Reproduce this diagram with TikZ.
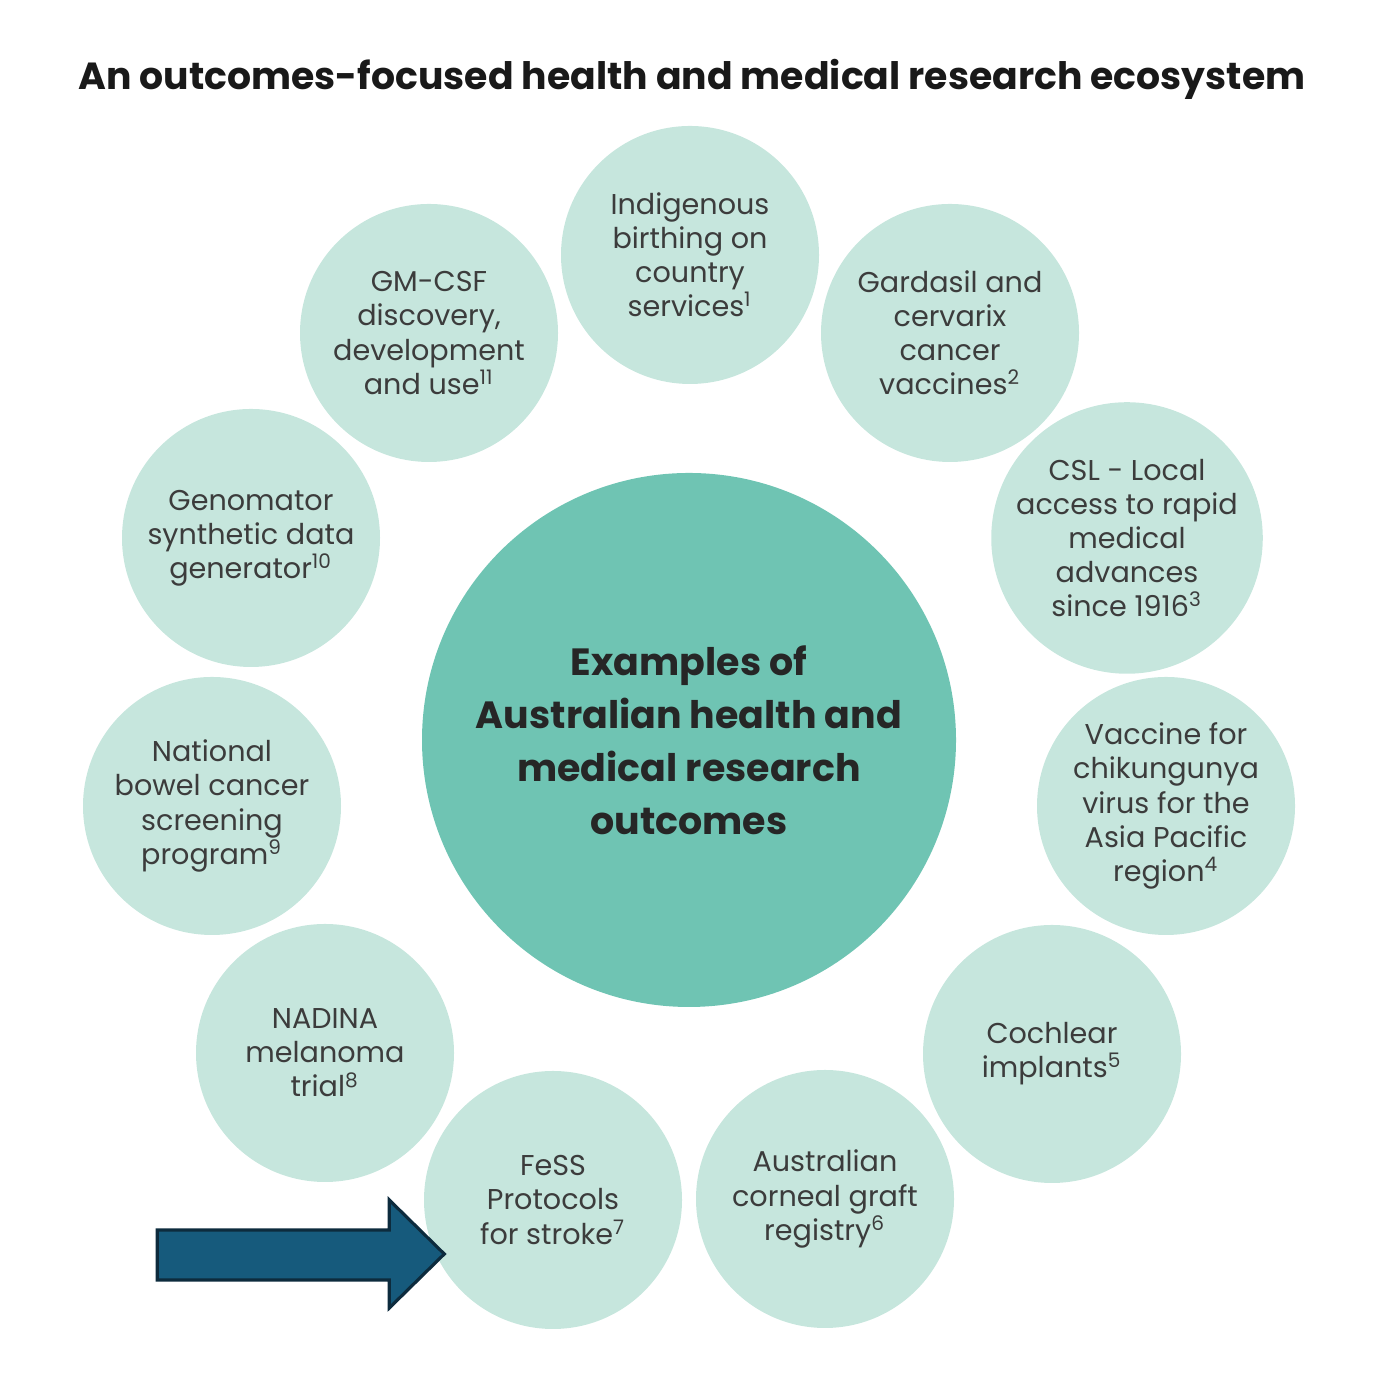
\documentclass[tikz,border=0pt]{standalone}
\usepackage{fontspec}
\setmainfont{Poppins}
\definecolor{mint}{HTML}{C6E6DD}
\definecolor{hubgreen}{HTML}{6FC4B3}
\definecolor{inktext}{HTML}{3C3C3C}
\definecolor{arrowblue}{HTML}{165A7C}
\definecolor{arrowedge}{HTML}{0D2B3D}
\tikzset{
  outcome/.style={circle, fill=mint, minimum size=2.58cm, inner sep=0pt,
    text=inktext, align=center, font=\fontsize{8.15}{9.7}\selectfont},
  hubnode/.style={circle, fill=hubgreen, minimum size=5.34cm, inner sep=0pt,
    text=black!85, align=center, font=\fontsize{10.8}{15.1}\selectfont\bfseries}
}
\begin{document}
\begin{tikzpicture}
		\useasboundingbox (0,0) rectangle (13.86,13.78);
		
		% Title
		\node[font=\fontsize{10.75}{13}\selectfont\bfseries, text=black!90] (title)
		at (6.92,12.99) {An outcomes-focused health and medical research ecosystem};
		
		% Hub
		\node[hubnode] (hub) at (6.89,6.38)
		{Examples of\\Australian health and\\medical research\\outcomes};
		
		% Outcomes round the hub
		\node[outcome] (indigenous) at (6.90,11.23)
		{Indigenous\\birthing on\\country\\services\textsuperscript{1}};
		\node[outcome] (gardasil) at (9.50,10.45)
		{Gardasil and\\cervarix\\cancer\\vaccines\textsuperscript{2}};
		\node[outcome] (csl) at (11.27,8.40)
		{CSL - Local\\access to rapid\\medical\\advances\\since 1916\textsuperscript{3}};
		\node[outcome] (chikungunya) at (11.66,5.72)
		{Vaccine for\\chikungunya\\virus for the\\Asia Pacific\\region\textsuperscript{4}};
		\node[outcome] (cochlear) at (10.52,3.24)
		{Cochlear\\implants\textsuperscript{5}};
		\node[outcome] (corneal) at (8.25,1.79)
		{Australian\\corneal graft\\registry\textsuperscript{6}};
		\node[outcome] (fess) at (5.53,1.78)
		{FeSS\\Protocols\\for stroke\textsuperscript{7}};
		\node[outcome] (nadina) at (3.25,3.25)
		{NADINA\\melanoma\\trial\textsuperscript{8}};
		\node[outcome] (bowel) at (2.12,5.72)
		{National\\bowel cancer\\screening\\program\textsuperscript{9}};
		\node[outcome] (genomator) at (2.51,8.40)
		{Genomator\\synthetic data\\generator\textsuperscript{10}};
		\node[outcome] (gmcsf) at (4.29,10.45)
		{GM-CSF\\discovery,\\development\\and use\textsuperscript{11}};
		
		% Pointer to FeSS
		\coordinate (tip) at ([xshift=0.21cm,yshift=-0.54cm]fess.west);
		\draw[line width=0.9pt, arrowedge, fill=arrowblue, line join=miter]
		(tip) -- ++(-0.55,0.54) -- ++(0,-0.30) -- ++(-2.32,0)
		-- ++(0,-0.50) -- ++(2.32,0) -- ++(0,-0.28) -- cycle;
	\end{tikzpicture}
\end{document}
